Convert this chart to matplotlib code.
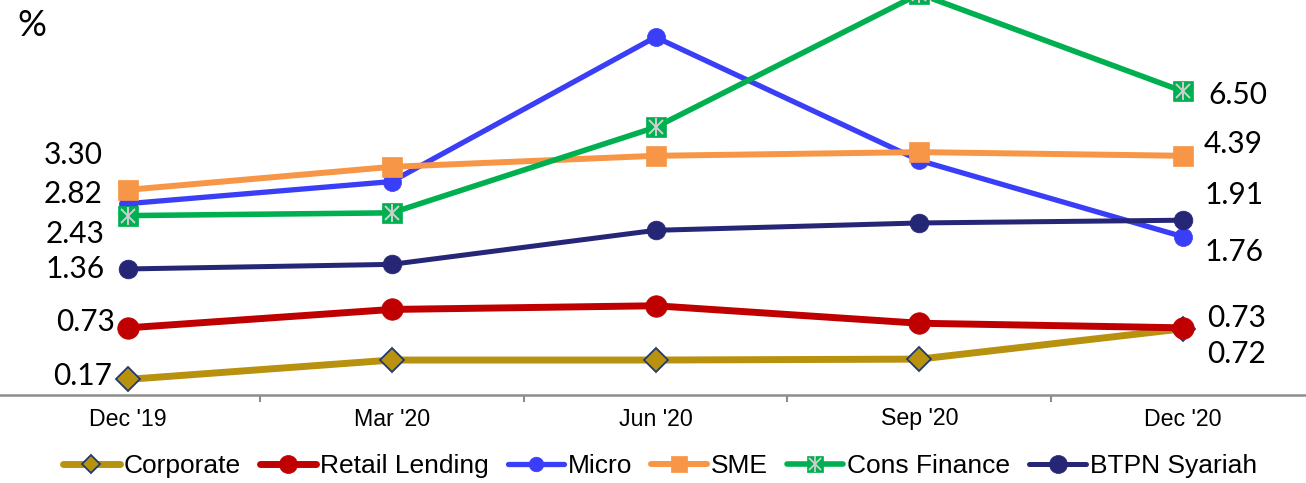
import matplotlib
matplotlib.use("Agg")
import matplotlib.pyplot as plt
from matplotlib.lines import Line2D
from matplotlib.ticker import FixedLocator
from matplotlib.legend_handler import HandlerTuple

# ---------------- data ----------------
categories = ["Dec '19", "Mar '20", "Jun '20", "Sep '20", "Dec '20"]
series_names = ["Corporate", "Retail Lending", "Micro", "SME", "Cons Finance", "BTPN Syariah"]

corporate = [0.17, 0.38, 0.38, 0.39, 0.72]
retail = [0.73, 0.93, 0.97, 0.78, 0.73]
micro = [2.08, 2.32, 3.89, 2.55, 1.72]
sme = [2.23, 2.48, 2.60, 2.64, 2.60]
cons_finance = [1.95, 1.98, 2.91, 4.36, 3.30]
btpn = [1.37, 1.42, 1.79, 1.87, 1.90]

left_labels = ["0.17", "0.73", "2.82", "3.30", "2.43", "1.36"]
right_labels = ["0.72", "0.73", "1.76", "4.39", "6.50", "1.91"]

# ---------------- styles ----------------
colors = ["#B8920F", "#C00000", "#3A3EF7", "#F79646", "#00B050", "#262676"]
markers = ["D", "o", "o", "s", "s", "o"]
msizes = [12, 15.5, 13, 15, 14, 13.5]
leg_msizes = [9.2, 13, 10.5, 12, 12, 13]
lwidths = [5.0, 5.0, 3.8, 4.3, 4.0, 3.6]
medge = ["#1F3A70", "#C00000", "#3A3EF7", "#F79646", "#00B050", "#262676"]
medgew = [1.3, 0.5, 0.5, 0.5, 0.5, 0.5]
star_color = "#CFCFCF"

# label offsets in pixels (dx, dy) relative to first/last point
left_offsets = [(-16, 6), (-13, 8), (-25, 12), (-25, 37), (-23, -16), (-23, 2)]
right_offsets = [(24, -23), (24, 12), (21, -13), (21, 14), (25, -1), (21, 28)]

W, H = 1306, 483
fig = plt.figure(figsize=(W / 100, H / 100), dpi=100)
ax = fig.add_axes([-4 / W, 1 - 395 / H, 1319 / W, 395 / H])

all_series = [corporate, retail, micro, sme, cons_finance, btpn]
x = list(range(len(categories)))
handles = []
for i, (name, ys) in enumerate(zip(series_names, all_series)):
    ax.plot(x, ys, color=colors[i], lw=lwidths[i], marker=markers[i],
            ms=msizes[i], mfc=colors[i], mec=medge[i], mew=medgew[i],
            zorder=3 + i, solid_joinstyle="round", solid_capstyle="round")
    h = Line2D([], [], color=colors[i], lw=lwidths[i], marker=markers[i],
               ms=leg_msizes[i], mfc=colors[i], mec=medge[i], mew=medgew[i],
               solid_capstyle="round")
    if name == "Cons Finance":
        ax.plot(x, ys, ls="none", marker="x", ms=10, mec=star_color, mew=1.4, zorder=3 + i + 0.1)
        ax.plot(x, ys, ls="none", marker="|", ms=13, mec=star_color, mew=1.4, zorder=3 + i + 0.1)
        h2 = Line2D([], [], ls="none", marker="x", ms=8.5, mec=star_color, mew=1.3)
        h3 = Line2D([], [], ls="none", marker="|", ms=11, mec=star_color, mew=1.3)
        handles.append((h, h2, h3))
    else:
        handles.append(h)

label_font = dict(family="Lato", fontsize=21.5, color="black")
for i, ys in enumerate(all_series):
    dx, dy = left_offsets[i]
    ax.annotate(left_labels[i], xy=(x[0], ys[0]), xytext=(dx, dy), textcoords="offset pixels",
                ha="right", va="center_baseline", annotation_clip=False, **label_font)
    dx, dy = right_offsets[i]
    ax.annotate(right_labels[i], xy=(x[-1], ys[-1]), xytext=(dx, dy), textcoords="offset pixels",
                ha="left", va="center_baseline", annotation_clip=False, **label_font)

ax.set_xlim(-0.5, len(categories) - 0.5)
ax.set_ylim(0, 395 / 92)
ax.set_xticks(x)
ax.set_xticklabels(categories, fontsize=16.7, family="Liberation Sans")
ax.xaxis.set_minor_locator(FixedLocator([i + 0.5 for i in range(-1, len(categories))]))
ax.tick_params(axis="x", which="major", length=0, pad=9)
ax.tick_params(axis="x", which="minor", length=5, width=1.5, color="#8C8C8C", direction="out")
ax.set_yticks([])
for s in ["top", "right", "left"]:
    ax.spines[s].set_visible(False)
ax.spines["bottom"].set_color("#8C8C8C")
ax.spines["bottom"].set_linewidth(1.8)
ax.patch.set_alpha(0)

fig.text(32 / W, 1 - 25 / H, "%", family="Lato", fontsize=26, ha="center", va="center")

fig.legend(handles, series_names, loc="center", bbox_to_anchor=(660 / W, 1 - 466 / H),
           ncol=6, frameon=False, prop=dict(family="Liberation Sans", size=19),
           handlelength=2.13, handletextpad=0.15, columnspacing=0.72, borderpad=0,
           handler_map={tuple: HandlerTuple(ndivide=1)})

fig.savefig("out.png", dpi=100)
